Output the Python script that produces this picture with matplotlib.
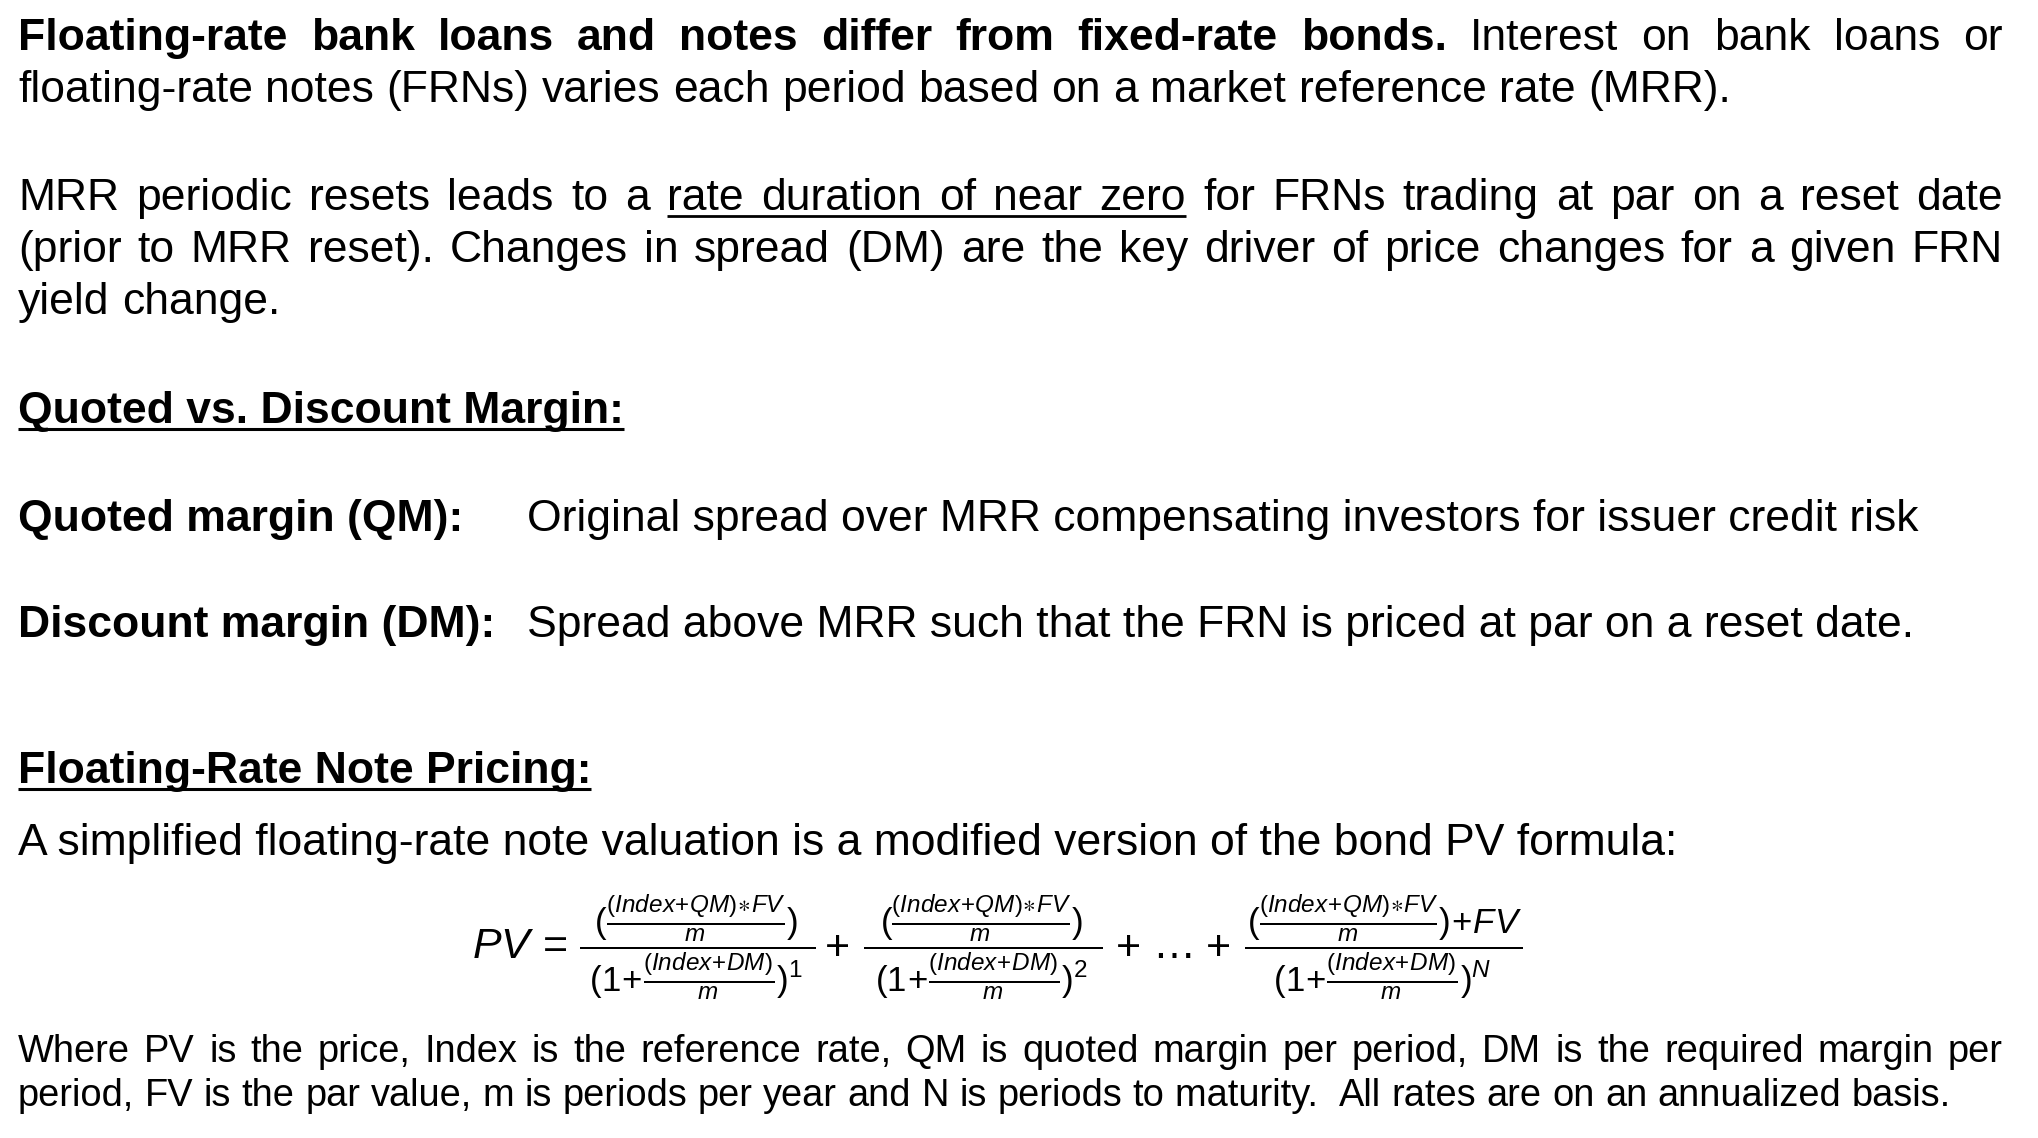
import matplotlib
matplotlib.use("Agg")
import matplotlib.pyplot as plt

plt.rcParams["font.family"] = ["Liberation Sans", "DejaVu Sans"]
plt.rcParams["mathtext.fontset"] = "custom"
plt.rcParams["mathtext.rm"] = "Liberation Sans"
plt.rcParams["mathtext.it"] = "Liberation Sans:italic"
plt.rcParams["mathtext.bf"] = "Liberation Sans:bold"
plt.rcParams["mathtext.fallback"] = "stixsans"

# ===== Texte =====
# each line = list of runs (text, weight, underlined)
para1 = [
    [("Floating-rate bank loans and notes differ from fixed-rate bonds.", "bold", False),
     ("Interest on bank loans or", "normal", False)],
    [("floating-rate notes (FRNs) varies each period based on a market reference rate (MRR).", "normal", False)],
]
para2 = [
    [("MRR periodic resets leads to a", "normal", False),
     ("rate duration of near zero", "normal", True),
     ("for FRNs trading at par on a reset date", "normal", False)],
    [("(prior to MRR reset). Changes in spread (DM) are the key driver of price changes for a given FRN", "normal", False)],
    [("yield change.", "normal", False)],
]
heading1 = "Quoted vs. Discount Margin:"
terms = ["Quoted margin (QM):", "Discount margin (DM):"]
definitions = ["Original spread over MRR compensating investors for issuer credit risk",
               "Spread above MRR such that the FRN is priced at par on a reset date."]
heading2 = "Floating-Rate Note Pricing:"
intro_formula = "A simplified floating-rate note valuation is a modified version of the bond PV formula:"
notes = [
    [("Where PV is the price, Index is the reference rate, QM is quoted margin per period, DM is the required margin per", "normal", False)],
    [("period, FV is the par value, m is periods per year and N is periods to maturity.\u00a0 All rates are on an annualized basis.", "normal", False)],
]
exponents = ["1", "2", "N"]

# ===== Mise en page =====
W, H = 2038, 1138
LEFT, RIGHT = 18, 2003
FS = 32.0        # corps
FS_NOTE = 27.4
FS_PV = 31.0
FS_FRAC = 25.0
PADS = [0.38, 0.42, 0.12]   # marge (em) de part et d'autre des barres de fraction

fig = plt.figure(figsize=(W / 100, H / 100), dpi=100)
ax = fig.add_axes([0, 0, 1, 1])
ax.set_xlim(0, W)
ax.set_ylim(H, 0)
ax.axis("off")
renderer = fig.canvas.get_renderer()


def text_width(s, weight, size):
    t = ax.text(0, 0, s, fontsize=size, fontweight=weight)
    w = t.get_window_extent(renderer).width
    t.remove()
    return w


def draw_line(y, runs, size, justify=False, x0=LEFT, x1=RIGHT):
    words = []
    for gi, (txt, weight, ul) in enumerate(runs):
        for w in txt.split(" "):
            if w:
                words.append((w, weight, gi if ul else None))
    widths = [text_width(w, wt, size) for w, wt, _ in words]
    if justify and len(words) > 1:
        gap = (x1 - x0 - sum(widths)) / (len(words) - 1)
    else:
        gap = text_width("x x", "normal", size) - text_width("xx", "normal", size)
    x = x0
    spans = {}
    for (w, wt, g), wd in zip(words, widths):
        ax.text(x, y, w, fontsize=size, fontweight=wt, va="baseline", ha="left")
        if g is not None:
            a = spans.get(g, (x, 0))[0]
            spans[g] = (a, x + wd)
        x += wd + gap
    for a, b in spans.values():
        ax.plot([a, b], [y + 6, y + 6], color="black", lw=2.0, solid_capstyle="butt")


def underlined_heading(x, y, s):
    t = ax.text(x, y, s, fontsize=FS, fontweight="bold", va="baseline", ha="left")
    w = t.get_window_extent(renderer).width
    ax.plot([x, x + w], [y + 6, y + 6], color="black", lw=2.2, solid_capstyle="butt")


# paragraphe 1
draw_line(50, para1[0], FS, justify=True)
draw_line(102, para1[1], FS)

# paragraphe 2
for y, line, just in zip([210, 262, 314], para2, [True, True, False]):
    draw_line(y, line, FS, justify=just)

underlined_heading(LEFT, 423, heading1)
for y, term, d in zip([531, 637], terms, definitions):
    ax.text(LEFT, y, term, fontsize=FS, fontweight="bold", va="baseline")
    ax.text(527, y, d, fontsize=FS, va="baseline")

underlined_heading(LEFT, 783, heading2)
ax.text(LEFT, 855, intro_formula, fontsize=FS, va="baseline")

# ===== Formule =====
inner_num = r"\frac{(Index\!+\!QM)\!\ast\!FV}{m}"
inner_den = r"\frac{(Index\!+\!DM)}{m}"
fracs = []
for k, pd in zip(exponents, PADS):
    p = r"\hspace{%.2f}" % pd
    top = "(" + inner_num + ")"
    if k == "N":
        top += r"\!+\!FV"
    bottom = r"(1\!+\!" + inner_den + r")^{" + k + "}"
    fracs.append(r"$\dfrac{" + p + top + p + "}{" + p + bottom + p + "}$")

yb = 958


def place(x, s, size):
    t = ax.text(x, yb, s, fontsize=size, va="baseline", ha="left")
    return x + t.get_window_extent(renderer).width


x = place(472, r"$PV\,=$", FS_PV)
x = place(x + 12, fracs[0], FS_FRAC)
x = place(x + 8, r"$+$", FS_PV)
x = place(x + 14, fracs[1], FS_FRAC)
x = place(x + 12, r"$+$", FS_PV)
x = place(x + 12, r"$\ldots$", FS_PV)
x = place(x + 14, r"$+$", FS_PV)
x = place(x + 14, fracs[2], FS_FRAC)

# notes
draw_line(1062, notes[0], FS_NOTE, justify=True)
draw_line(1106, notes[1], FS_NOTE)

fig.savefig("out.png", dpi=100, facecolor="white")
